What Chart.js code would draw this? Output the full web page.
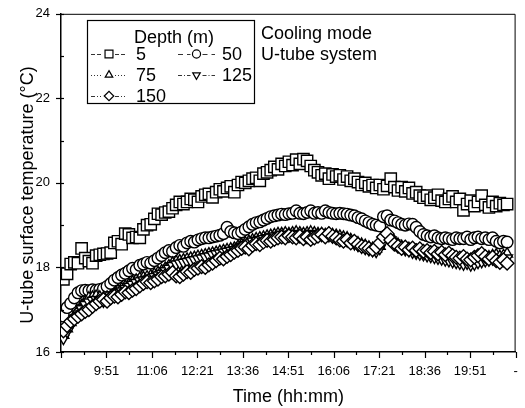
<!DOCTYPE html>
<html>
<head>
  <meta charset="UTF-8">
  <title>U-tube surface temperature</title>
  <script src="https://cdn.jsdelivr.net/npm/chart.js"></script>
  <style>
    body {
      margin: 0;
      background: #fff;
    }
    #wrap {
      width: 525px;
      height: 408px;
    }
  </style>
</head>
<body>
  <div id="wrap"><canvas id="tempChart"></canvas></div>

  <script>
    // sampling clock (minutes after midnight)
    const sampleStart = 520;   // 8:40
    const sampleStep = 6;

    const depths = ['5', '50', '75', '125', '150'];

    const temp5 = [
      17.72, 17.85, 18.08, 18.12, 18.10, 18.45, 18.22, 18.15, 18.10, 18.28,
      18.30, 18.32, 18.33, 18.35, 18.58, 18.62, 18.55, 18.80, 18.78, 18.70,
      18.72, 18.70, 18.90, 19.00, 19.02, 19.15, 19.27, 19.25, 19.30, 19.32,
      19.40, 19.48, 19.55, 19.50, 19.55, 19.62, 19.60, 19.55, 19.68, 19.72,
      19.74, 19.66, 19.78, 19.85, 19.80, 19.88, 19.92, 19.78, 19.95, 20.02,
      20.00, 20.05, 20.10, 20.12, 20.05, 20.22, 20.25, 20.30, 20.38, 20.32,
      20.45, 20.40, 20.50, 20.42, 20.55, 20.45, 20.56, 20.52, 20.40, 20.30,
      20.25, 20.18, 20.22, 20.10, 20.20, 20.15, 20.18, 20.08, 20.15, 20.05,
      20.10, 20.02, 19.95, 20.00, 19.92, 19.95, 19.88, 19.95, 19.85, 19.93,
      20.10, 19.90, 19.82, 19.90, 19.80, 19.88, 19.75, 19.78, 19.70, 19.65,
      19.70, 19.60, 19.65, 19.72, 19.58, 19.55, 19.62, 19.68, 19.55, 19.62,
      19.35, 19.50, 19.58, 19.45, 19.55, 19.70, 19.48, 19.42, 19.55, 19.45,
      19.52, 19.48, 19.50
    ];
    const temp50 = [
      16.85, 17.05, 17.15, 17.28, 17.40, 17.45, 17.46, 17.45, 17.47, 17.46,
      17.48, 17.50, 17.55, 17.62, 17.70, 17.76, 17.82, 17.86, 17.92, 17.98,
      17.95, 18.05, 18.08, 18.12, 18.10, 18.16, 18.22, 18.28, 18.35, 18.40,
      18.38, 18.47, 18.52, 18.50, 18.58, 18.62, 18.60, 18.65, 18.68, 18.70,
      18.70, 18.72, 18.74, 18.76, 18.80, 18.95, 18.85, 18.82, 18.80, 18.84,
      18.90, 18.96, 19.02, 19.06, 19.08, 19.12, 19.16, 19.20, 19.22, 19.24,
      19.26, 19.25, 19.27, 19.28, 19.34, 19.28, 19.27, 19.30, 19.34, 19.28,
      19.30, 19.28, 19.34, 19.30, 19.28, 19.27, 19.28, 19.27, 19.26, 19.24,
      19.22, 19.18, 19.15, 19.10, 19.06, 19.02, 19.00, 18.98, 19.20, 19.22,
      19.12, 19.10, 19.06, 19.02, 19.00, 19.03, 19.02, 18.95, 18.85, 18.78,
      18.75, 18.72, 18.75, 18.70, 18.68, 18.70, 18.68, 18.66, 18.70, 18.68,
      18.68, 18.72, 18.66, 18.70, 18.72, 18.68, 18.70, 18.66, 18.70, 18.62,
      18.58, 18.62, 18.60
    ];
    const temp75 = [
      16.40, 16.55, 16.70, 16.85, 16.98, 17.10, 17.20, 17.28, 17.30, 17.32,
      17.30, 17.28, 17.30, 17.32, 17.38, 17.45, 17.50, 17.55, 17.60, 17.66,
      17.70, 17.74, 17.76, 17.78, 17.80, 17.84, 17.88, 17.92, 17.98, 18.04,
      18.10, 18.14, 18.16, 18.18, 18.20, 18.22, 18.24, 18.26, 18.28, 18.30,
      18.32, 18.34, 18.36, 18.38, 18.40, 18.42, 18.44, 18.46, 18.50, 18.54,
      18.58, 18.62, 18.65, 18.68, 18.70, 18.72, 18.74, 18.76, 18.78, 18.80,
      18.80, 18.82, 18.80, 18.82, 18.84, 18.82, 18.80, 18.82, 18.84, 18.82,
      18.80, 18.80, 18.78, 18.80, 18.78, 18.76, 18.74, 18.72, 18.70, 18.66,
      18.62, 18.58, 18.55, 18.52, 18.48, 18.45, 18.44, 18.50, 18.72, 18.78,
      18.70, 18.62, 18.55, 18.50, 18.48, 18.45, 18.42, 18.40, 18.38, 18.36,
      18.35, 18.34, 18.32, 18.30, 18.28, 18.26, 18.24, 18.22, 18.20, 18.18,
      18.16, 18.14, 18.12, 18.15, 18.18, 18.20, 18.22, 18.25, 18.28, 18.30,
      18.26, 18.28, 18.32
    ];
    const temp125 = [
      16.32, 16.48, 16.62, 16.78, 16.90, 17.02, 17.12, 17.18, 17.22, 17.24,
      17.22, 17.20, 17.24, 17.28, 17.34, 17.40, 17.44, 17.50, 17.55, 17.60,
      17.64, 17.68, 17.70, 17.72, 17.75, 17.78, 17.82, 17.86, 17.92, 17.98,
      18.04, 18.08, 18.10, 18.12, 18.14, 18.16, 18.18, 18.20, 18.22, 18.25,
      18.27, 18.30, 18.32, 18.34, 18.36, 18.38, 18.40, 18.42, 18.46, 18.50,
      18.54, 18.58, 18.62, 18.64, 18.66, 18.68, 18.70, 18.72, 18.74, 18.76,
      18.76, 18.78, 18.76, 18.78, 18.80, 18.78, 18.76, 18.78, 18.80, 18.78,
      18.76, 18.76, 18.74, 18.75, 18.72, 18.70, 18.68, 18.66, 18.63, 18.60,
      18.56, 18.52, 18.48, 18.45, 18.42, 18.40, 18.38, 18.45, 18.66, 18.72,
      18.65, 18.58, 18.50, 18.46, 18.42, 18.40, 18.36, 18.34, 18.32, 18.30,
      18.28, 18.26, 18.24, 18.22, 18.20, 18.18, 18.16, 18.14, 18.12, 18.10,
      18.08, 18.10, 18.06, 18.08, 18.12, 18.14, 18.16, 18.18, 18.20, 18.18,
      18.16, 18.20, 18.22
    ];
    const temp150 = [
      16.50, 16.62, 16.72, 16.78, 16.84, 16.90, 16.96, 17.00, 17.08, 17.14,
      17.20, 17.24, 17.20, 17.28, 17.32, 17.30, 17.36, 17.42, 17.40, 17.46,
      17.50, 17.56, 17.62, 17.66, 17.64, 17.68, 17.72, 17.78, 17.80, 17.84,
      17.88, 17.80, 17.78, 17.84, 17.90, 17.88, 17.95, 17.98, 18.02, 18.00,
      18.06, 18.10, 18.16, 18.22, 18.20, 18.26, 18.30, 18.36, 18.40, 18.45,
      18.48, 18.44, 18.52, 18.56, 18.54, 18.60, 18.64, 18.62, 18.66, 18.70,
      18.72, 18.70, 18.75, 18.72, 18.70, 18.74, 18.68, 18.72, 18.66, 18.70,
      18.74, 18.78, 18.72, 18.80, 18.74, 18.70, 18.65, 18.62, 18.66, 18.58,
      18.62, 18.55, 18.50, 18.48, 18.45, 18.42, 18.48, 18.58, 18.72, 18.80,
      18.65, 18.55, 18.50, 18.45, 18.48, 18.42, 18.46, 18.40, 18.44, 18.38,
      18.40, 18.35, 18.38, 18.32, 18.36, 18.30, 18.34, 18.28, 18.24, 18.22,
      18.26, 18.20, 18.18, 18.24, 18.28, 18.33, 18.26, 18.20, 18.24, 18.16,
      18.12, 18.18, 18.10
    ];

    const xTickLabels = ['9:51', '11:06', '12:21', '13:36', '14:51', '16:06', '17:21', '18:36', '19:51', '-'];
    const yTickLabels = [16, 18, 20, 22, 24];

    const xMin = 516;   // 8:36
    const xMax = 1266;  // 21:06

    const series = [temp5, temp50, temp75, temp125, temp150];
    const styles = [
      { pointStyle: 'rect', radius: 8, rotation: 0, dash: [4, 2] },
      { pointStyle: 'circle', radius: 5.8, rotation: 0, dash: [5, 4] },
      { pointStyle: 'triangle', radius: 6.2, rotation: 0, dash: [1, 2] },
      { pointStyle: 'triangle', radius: 6.2, rotation: 180, dash: [4, 2, 1, 2] },
      { pointStyle: 'rectRot', radius: 6.8, rotation: 0, dash: [4, 2, 1, 2, 1, 2] }
    ];

    const datasets = series.map((vals, i) => ({
      label: depths[i],
      data: vals.map((v, k) => ({ x: sampleStart + k * sampleStep, y: v })),
      showLine: false,
      pointStyle: styles[i].pointStyle,
      pointRadius: styles[i].radius,
      pointRotation: styles[i].rotation,
      pointBackgroundColor: '#fff',
      pointBorderColor: '#000',
      pointBorderWidth: 1.4,
      borderDash: styles[i].dash,
      order: series.length - i
    }));

    // frame, minor/major tick marks, y title, legend box and note
    const decor = {
      id: 'decor',
      afterDraw(chart) {
        const { ctx, chartArea: a, scales: { x, y } } = chart;
        ctx.save();
        ctx.strokeStyle = '#000';
        ctx.lineWidth = 1;
        ctx.beginPath();
        ctx.moveTo(a.left, a.top + 0.5);
        ctx.lineTo(a.right - 0.5, a.top + 0.5);
        ctx.lineTo(a.right - 0.5, a.bottom);
        ctx.stroke();

        ctx.lineWidth = 1.2;
        x.ticks.forEach(t => {
          const px = Math.round(x.getPixelForValue(t.value)) + 0.5;
          const major = (t.value - xMin) % 75 === 0;
          ctx.beginPath();
          ctx.moveTo(px, a.bottom);
          ctx.lineTo(px, a.bottom + (major ? 6 : 3));
          ctx.stroke();
        });
        y.ticks.forEach(t => {
          const py = Math.round(y.getPixelForValue(t.value)) + 0.5;
          const major = t.value % 2 === 0;
          ctx.beginPath();
          if (major) {
            ctx.moveTo(a.left - 5, py);
            ctx.lineTo(a.left + 3, py);
          } else {
            ctx.moveTo(a.left, py);
            ctx.lineTo(a.left + 3, py);
          }
          ctx.stroke();
        });

        ctx.fillStyle = '#000';
        ctx.font = '18px Arial, "Liberation Sans", sans-serif';
        ctx.textBaseline = 'middle';

        // y axis title
        ctx.save();
        ctx.translate(28, 195);
        ctx.rotate(-Math.PI / 2);
        ctx.textAlign = 'center';
        ctx.fillText('U-tube surface temperature (°C)', 0, 0);
        ctx.restore();

        // legend box
        ctx.lineWidth = 1.2;
        ctx.strokeRect(87.5, 20.5, 167, 83);
        ctx.textAlign = 'left';
        ctx.fillText('Depth (m)', 134, 38);
        const slots = [
          [91, 127, 136, 54], [178, 215, 222, 54],
          [91, 127, 136, 75], [178, 215, 222, 75],
          [91, 127, 136, 96]
        ];
        slots.forEach((s, i) => {
          const [x0, x1, tx, ty] = s;
          const mx = (x0 + x1) / 2;
          ctx.save();
          ctx.lineWidth = 0.8;
          ctx.setLineDash(styles[i].dash);
          ctx.beginPath();
          ctx.moveTo(x0, ty + 0.5);
          ctx.lineTo(mx - 6, ty + 0.5);
          ctx.moveTo(mx + 6, ty + 0.5);
          ctx.lineTo(x1, ty + 0.5);
          ctx.stroke();
          ctx.restore();
          ctx.fillStyle = '#fff';
          Chart.helpers.drawPoint(ctx, {
            pointStyle: styles[i].pointStyle,
            radius: styles[i].radius * 0.7,
            rotation: styles[i].rotation,
            borderWidth: 1
          }, mx, ty);
          ctx.fillStyle = '#000';
          ctx.fillText(depths[i], tx, ty + 1);
        });

        // note
        ctx.fillText('Cooling mode', 261, 34);
        ctx.fillText('U-tube system', 261, 55);
        ctx.restore();
      }
    };

    Chart.defaults.font.family = 'Arial, "Liberation Sans", sans-serif';
    Chart.defaults.color = '#000';

    new Chart(document.getElementById('tempChart'), {
      type: 'scatter',
      data: { datasets: datasets },
      options: {
        responsive: true,
        maintainAspectRatio: false,
        animation: false,
        layout: { padding: { top: 12, right: 6, left: 0, bottom: 0 } },
        plugins: {
          legend: { display: false },
          tooltip: { enabled: false }
        },
        scales: {
          x: {
            type: 'linear',
            min: xMin,
            max: xMax,
            afterFit(scale) { scale.height = 56; },
            afterBuildTicks(scale) {
              const t = [];
              for (let v = xMin; v <= xMax; v += 37.5) t.push({ value: v });
              scale.ticks = t;
            },
            ticks: {
              font: { size: 13 },
              padding: 6,
              maxRotation: 0,
              autoSkip: false,
              callback(v) {
                const n = Math.round((v - xMin) / 75);
                if ((v - xMin) % 75 !== 0 || n === 0) return '';
                return xTickLabels[n - 1];
              }
            },
            grid: { color: 'rgba(0,0,0,0)', drawOnChartArea: false, tickLength: 6 },
            border: { color: '#000', width: 1.5 },
            title: {
              display: true,
              text: 'Time (hh:mm)',
              font: { size: 18 },
              padding: { top: 0, bottom: 0 }
            }
          },
          y: {
            min: 16,
            max: 24,
            afterFit(scale) { scale.width = 61; },
            ticks: {
              stepSize: 1,
              font: { size: 13 },
              padding: 6,
              callback(v) { return yTickLabels.includes(v) ? v : ''; }
            },
            grid: { color: 'rgba(0,0,0,0)', drawOnChartArea: false, tickLength: 5 },
            border: { color: '#000', width: 1.5 }
          }
        }
      },
      plugins: [decor]
    });
  </script>
</body>
</html>
